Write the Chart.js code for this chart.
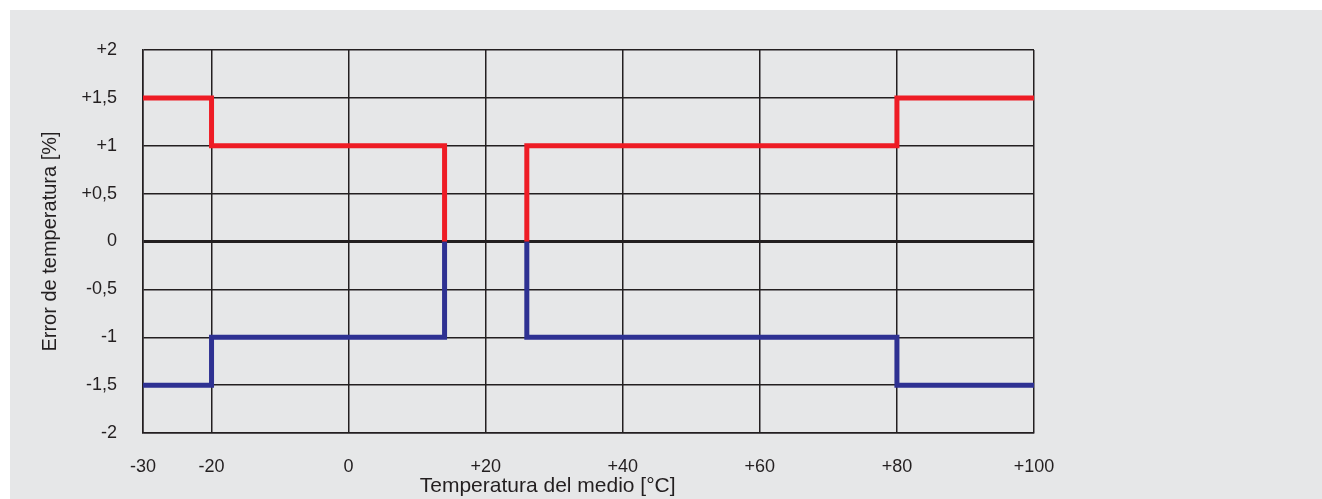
<!DOCTYPE html>
<html lang="es">
<head>
<meta charset="UTF-8">
<title>Error de temperatura</title>
<script src="https://cdn.jsdelivr.net/npm/chart.js@4.4.0/dist/chart.umd.min.js"></script>
<style>
    body { margin: 0; background: #ffffff; }
    .panel {
        position: absolute;
        left: 10px;
        top: 10px;
        width: 1312px;
        height: 489px;
        background: #e6e7e8;
    }
    canvas { display: block; }
</style>
</head>
<body>
<div class="panel">
    <canvas id="errChart" width="1312" height="489"></canvas>
</div>
<script>
    // Axis ticks
    const xTicks = [-30, -20, 0, 20, 40, 60, 80, 100];
    const yTicks = [-2, -1.5, -1, -0.5, 0, 0.5, 1, 1.5, 2];

    // Upper limit (red), two pieces with a gap between 14 and 26 °C
    const upperLeftT = [-30, -20, -20, 14, 14];
    const upperLeftE = [1.5, 1.5, 1, 1, 0];
    const upperRightT = [26, 26, 80, 80, 100];
    const upperRightE = [0, 1, 1, 1.5, 1.5];

    // Lower limit (blue)
    const lowerLeftT = [-30, -20, -20, 14, 14];
    const lowerLeftE = [-1.5, -1.5, -1, -1, 0];
    const lowerRightT = [26, 26, 80, 80, 100];
    const lowerRightE = [0, -1, -1, -1.5, -1.5];

    const RED = '#ee1c25';
    const BLUE = '#2e3192';
    const INK = '#231f20';

    function pts(xs, ys) {
        return xs.map((x, i) => ({ x: x, y: ys[i] }));
    }

    function limitSet(xs, ys, color) {
        return {
            data: pts(xs, ys),
            borderColor: color,
            borderWidth: 5,
            pointRadius: 0,
            tension: 0,
            fill: false,
            borderJoinStyle: 'miter',
            borderCapStyle: 'butt'
        };
    }

    function fmt(v) {
        const s = String(Math.abs(v)).replace('.', ',');
        if (v > 0) return '+' + s;
        if (v < 0) return '-' + s;
        return '0';
    }

    new Chart(document.getElementById('errChart'), {
        type: 'line',
        data: {
            datasets: [
                limitSet(upperLeftT, upperLeftE, RED),
                limitSet(upperRightT, upperRightE, RED),
                limitSet(lowerLeftT, lowerLeftE, BLUE),
                limitSet(lowerRightT, lowerRightE, BLUE)
            ]
        },
        options: {
            responsive: false,
            animation: false,
            layout: { padding: { left: 28, right: 288, top: 40, bottom: 0 } },
            plugins: {
                legend: { display: false },
                tooltip: { enabled: false }
            },
            scales: {
                x: {
                    type: 'linear',
                    min: -30,
                    max: 100,
                    afterBuildTicks: s => { s.ticks = xTicks.map(v => ({ value: v })); },
                    afterFit: s => { s.height = 66; },
                    grid: { color: INK, lineWidth: 1.5, drawTicks: false },
                    border: { color: INK, width: 1.5 },
                    ticks: {
                        color: INK,
                        padding: 23,
                        maxRotation: 0,
                        font: { family: 'Liberation Sans', size: 18 },
                        callback: v => fmt(v)
                    },
                    title: {
                        display: true,
                        // trailing spaces pull the centred title a bit to the left, as in the original
                        text: 'Temperatura del medio [°C]' + '\u00a0'.repeat(14),
                        color: INK,
                        padding: 0,
                        font: { family: 'Liberation Sans', size: 21 }
                    }
                },
                y: {
                    min: -2,
                    max: 2,
                    afterBuildTicks: s => { s.ticks = yTicks.map(v => ({ value: v })); },
                    afterFit: s => { s.width = 105; },
                    grid: {
                        color: INK,
                        lineWidth: c => (c.tick && c.tick.value === 0 ? 3 : 1.5),
                        drawTicks: false
                    },
                    border: { color: INK, width: 1.5 },
                    ticks: {
                        color: INK,
                        padding: 26,
                        font: { family: 'Liberation Sans', size: 18 },
                        callback: v => fmt(v)
                    },
                    title: {
                        display: true,
                        text: 'Error de temperatura [%]',
                        color: INK,
                        padding: 0,
                        font: { family: 'Liberation Sans', size: 20 }
                    }
                }
            }
        }
    });
</script>
</body>
</html>
